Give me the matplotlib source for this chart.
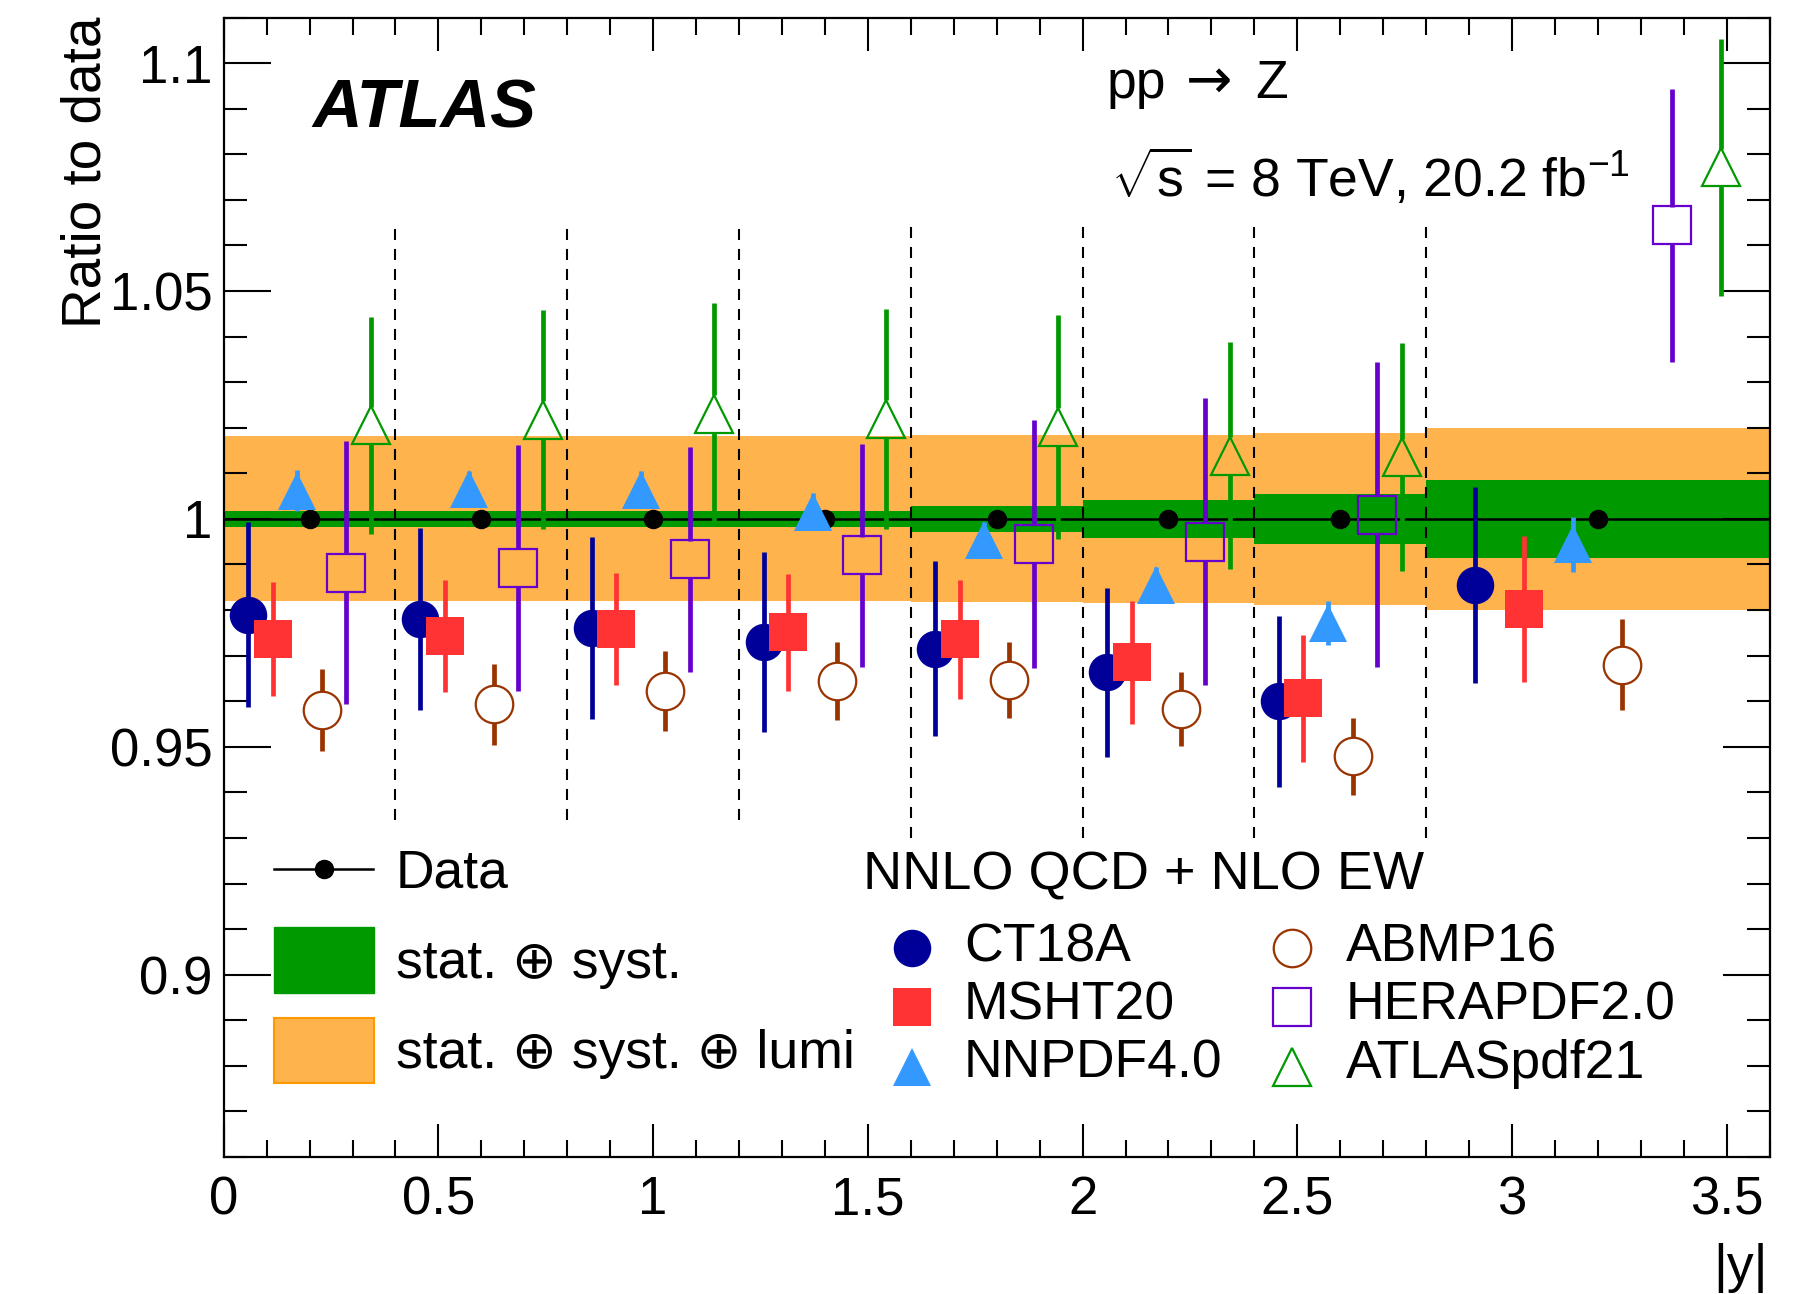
import matplotlib
matplotlib.use('Agg')
import matplotlib.pyplot as plt
import numpy as np
from matplotlib.ticker import FixedLocator, MultipleLocator
from matplotlib.patches import Rectangle
from matplotlib.lines import Line2D

plt.rcParams['font.family'] = ['Liberation Sans', 'DejaVu Sans']
plt.rcParams['mathtext.fontset'] = 'custom'
plt.rcParams['mathtext.rm'] = 'Liberation Sans'
plt.rcParams['mathtext.it'] = 'Liberation Sans:italic'
plt.rcParams['mathtext.bf'] = 'Liberation Sans:bold'

# ---------------- data ----------------
bin_edges = [0.0, 0.4, 0.8, 1.2, 1.6, 2.0, 2.4, 2.8, 3.6]
data_ratio = [1.0, 1.0, 1.0, 1.0, 1.0, 1.0, 1.0, 1.0]
stat_syst_err = [0.0018, 0.0018, 0.0018, 0.0018, 0.0028, 0.0041, 0.0055, 0.0085]
total_err = [0.0181, 0.0181, 0.0181, 0.0181, 0.0183, 0.0185, 0.0189, 0.0199]

ct18a = [0.979, 0.978, 0.976, 0.973, 0.9715, 0.9663, 0.960, 0.9856]
ct18a_err = [0.0203, 0.020, 0.020, 0.0198, 0.0192, 0.0186, 0.0188, 0.0215]
msht20 = [0.9736, 0.9743, 0.9758, 0.9751, 0.9736, 0.9685, 0.9606, 0.9802]
msht20_err = [0.0125, 0.0123, 0.0123, 0.0128, 0.0131, 0.0135, 0.014, 0.016]
nnpdf40 = [1.0062, 1.0066, 1.0064, 1.0016, 0.9954, 0.9855, 0.9772, 0.9944]
nnpdf40_err = [0.0045, 0.004, 0.004, 0.004, 0.004, 0.004, 0.0048, 0.006]
abmp16 = [0.958, 0.9593, 0.9623, 0.9644, 0.9647, 0.9583, 0.9479, 0.968]
abmp16_err = [0.009, 0.0088, 0.0088, 0.0086, 0.0083, 0.0082, 0.0085, 0.010]
herapdf20 = [0.9882, 0.9892, 0.9911, 0.992, 0.9945, 0.995, 1.0009, 1.0644]
herapdf20_err = [0.0288, 0.027, 0.0247, 0.0245, 0.0273, 0.0315, 0.0335, 0.030]
atlaspdf21 = [1.0205, 1.0218, 1.0231, 1.0219, 1.0202, 1.0139, 1.0135, 1.0771]
atlaspdf21_err = [0.0238, 0.024, 0.0242, 0.0242, 0.0246, 0.025, 0.025, 0.0282]

pdf_names = ['CT18A', 'MSHT20', 'NNPDF4.0', 'ABMP16', 'HERAPDF2.0', 'ATLASpdf21']
divider_bottom = [0.934, 0.934, 0.934, 0.930, 0.930, 0.930, 0.930]
divider_top = 1.0642

x_ticks = [0, 0.5, 1, 1.5, 2, 2.5, 3, 3.5]
x_ticklabels = ['0', '0.5', '1', '1.5', '2', '2.5', '3', '3.5']
y_ticks = [0.9, 0.95, 1.0, 1.05, 1.1]
y_ticklabels = ['0.9', '0.95', '1', '1.05', '1.1']

# ---------------- style ----------------
GREEN_BAND = '#009900'
ORANGE_BAND = '#FFB34D'
ORANGE_EDGE = '#FF9900'
styles = [
    dict(marker='o', color='#000099', filled=True),
    dict(marker='s', color='#FF3333', filled=True),
    dict(marker='^', color='#3399FF', filled=True),
    dict(marker='o', color='#993300', filled=False),
    dict(marker='s', color='#6600CC', filled=False),
    dict(marker='^', color='#009900', filled=False),
]
MS = 27
EW = 3.4
FS = 38.5

fig = plt.figure(figsize=(18.08, 12.94), dpi=100)
W, H = 1808, 1294
ax_l, ax_r, ax_t, ax_b = 223.7, 1769.7, 17.5, 1157.0
ax = fig.add_axes([ax_l / W, 1 - ax_b / H, (ax_r - ax_l) / W, (ax_b - ax_t) / H])
ymin, ymax = 0.86, 1.11
ax.set_xlim(0, 3.6)
ax.set_ylim(ymin, ymax)

edges = np.array(bin_edges)
d = np.array(data_ratio)
lo_e, hi_e = edges[:-1], edges[1:]
centers = 0.5 * (lo_e + hi_e)

ax.stairs(d + np.array(total_err), edges, baseline=d - np.array(total_err),
          fill=True, color=ORANGE_BAND, lw=0, zorder=1)
ax.stairs(d + np.array(stat_syst_err), edges, baseline=d - np.array(stat_syst_err),
          fill=True, color=GREEN_BAND, lw=0, zorder=1.5)
ax.stairs(d, edges, baseline=None, color='black', lw=1.8, zorder=2)

ax.vlines(edges[1:-1], divider_bottom, divider_top, colors='black', lw=1.5,
          linestyles=(0, (5.3, 4.3)), zorder=2.5)

ax.plot(centers, d, 'o', color='black', ms=13, zorder=3.5, lw=0)

ax_h_px = ax_b - ax_t
half = (MS * 100 / 72 / 2) / ax_h_px * (ymax - ymin)

series = [(ct18a, ct18a_err), (msht20, msht20_err), (nnpdf40, nnpdf40_err),
          (abmp16, abmp16_err), (herapdf20, herapdf20_err), (atlaspdf21, atlaspdf21_err)]
for k, ((vals, errs), st) in enumerate(zip(series, styles)):
    xs = lo_e + (hi_e - lo_e) * (k + 1) / 7.0
    v = np.array(vals)
    e = np.array(errs)
    if st['filled']:
        ax.vlines(xs, v - e, v + e, colors=st['color'], lw=EW, zorder=3)
        ax.plot(xs, v, st['marker'], color=st['color'], ms=MS, mew=0, lw=0, zorder=4)
    else:
        ax.vlines(xs, v + half, v + e, colors=st['color'], lw=EW, zorder=3)
        ax.vlines(xs, v - e, v - half, colors=st['color'], lw=EW, zorder=3)
        ax.plot(xs, v, st['marker'], mfc='none', mec=st['color'], ms=MS, mew=1.6,
                lw=0, zorder=4)

# ticks
ax.xaxis.set_major_locator(FixedLocator(x_ticks))
ax.set_xticklabels(x_ticklabels)
ax.xaxis.set_minor_locator(MultipleLocator(0.1))
ax.yaxis.set_major_locator(FixedLocator(y_ticks))
ax.set_yticklabels(y_ticklabels)
ax.yaxis.set_minor_locator(MultipleLocator(0.01))
ax.tick_params(axis='both', which='both', direction='in', top=True, right=True,
               width=1.5, labelsize=38)
ax.tick_params(axis='x', which='major', length=24, pad=13)
ax.tick_params(axis='x', which='minor', length=12)
ax.tick_params(axis='y', which='major', length=34, pad=8)
ax.tick_params(axis='y', which='minor', length=16.5)
for s in ax.spines.values():
    s.set_linewidth(1.6)

# axis labels
fig.text(101 / W, 1 - 17 / H, 'Ratio to data', fontsize=39.5, rotation=90,
         rotation_mode='anchor', ha='right', va='baseline')
fig.text(1768 / W, 1 - 1282 / H, '|y|', fontsize=FS, ha='right', va='baseline')

def axf(X, Y):
    return ((X - ax_l) / (ax_r - ax_l), (ax_b - Y) / (ax_b - ax_t))

ta = ax.transAxes
ax.text(*axf(312, 128), 'ATLAS', transform=ta, fontsize=49.5, fontweight='bold',
        fontstyle='italic', ha='left', va='baseline')
ax.text(*axf(1107, 98), 'pp', transform=ta, fontsize=FS, ha='left', va='baseline')
ax.text(*axf(1186, 98), '\u2192', transform=ta, fontsize=40, family=['DejaVu Sans'],
        ha='left', va='baseline')
ax.text(*axf(1255, 98), 'Z', transform=ta, fontsize=FS, ha='left', va='baseline')
ax.text(*axf(1111, 197), r'$\sqrt{\mathrm{s}}$ = 8 TeV, 20.2 fb$^{\mathrm{-1}}$',
        transform=ta, fontsize=FS, ha='left', va='baseline')

# legend left
x0, y0 = axf(274, 869)
x1, _ = axf(373, 869)
ax.add_line(Line2D([x0, x1], [y0, y0], transform=ta, color='black', lw=1.8, clip_on=False))
ax.plot([(x0 + x1) / 2], [y0], 'o', color='black', ms=13, transform=ta, clip_on=False)
ax.text(*axf(396, 888), 'Data', transform=ta, fontsize=FS, ha='left', va='baseline')
bx0, by0 = axf(274, 993)
bx1, by1 = axf(374, 927)
ax.add_patch(Rectangle((bx0, by0), bx1 - bx0, by1 - by0, transform=ta,
                       facecolor=GREEN_BAND, edgecolor=GREEN_BAND, lw=1, clip_on=False))
ax.text(*axf(396, 978), 'stat. \u2295 syst.', transform=ta, fontsize=FS,
        ha='left', va='baseline')
bx0, by0 = axf(274, 1083)
bx1, by1 = axf(374, 1018)
ax.add_patch(Rectangle((bx0, by0), bx1 - bx0, by1 - by0, transform=ta,
                       facecolor=ORANGE_BAND, edgecolor=ORANGE_EDGE, lw=1.5, clip_on=False))
ax.text(*axf(396, 1068), 'stat. \u2295 syst. \u2295 lumi', transform=ta, fontsize=FS,
        ha='left', va='baseline')

# legend right
ax.text(*axf(863.5, 890), 'NNLO QCD + NLO EW', transform=ta, fontsize=39,
        ha='left', va='baseline')
leg_cols = [(912, 964), (1292, 1346)]
leg_rows = [(948, 962), (1007, 1019), (1067, 1078)]
for k, (name, st) in enumerate(zip(pdf_names, styles)):
    mx, tx = leg_cols[k // 3]
    my, ty = leg_rows[k % 3]
    if st['filled']:
        ax.plot([axf(mx, my)[0]], [axf(mx, my)[1]], st['marker'], color=st['color'],
                ms=MS, mew=0, transform=ta, clip_on=False)
    else:
        ax.plot([axf(mx, my)[0]], [axf(mx, my)[1]], st['marker'], mfc='none',
                mec=st['color'], ms=MS, mew=1.6, transform=ta, clip_on=False)
    ax.text(*axf(tx, ty), name, transform=ta, fontsize=FS, ha='left', va='baseline')

fig.savefig('out.png', dpi=100)
